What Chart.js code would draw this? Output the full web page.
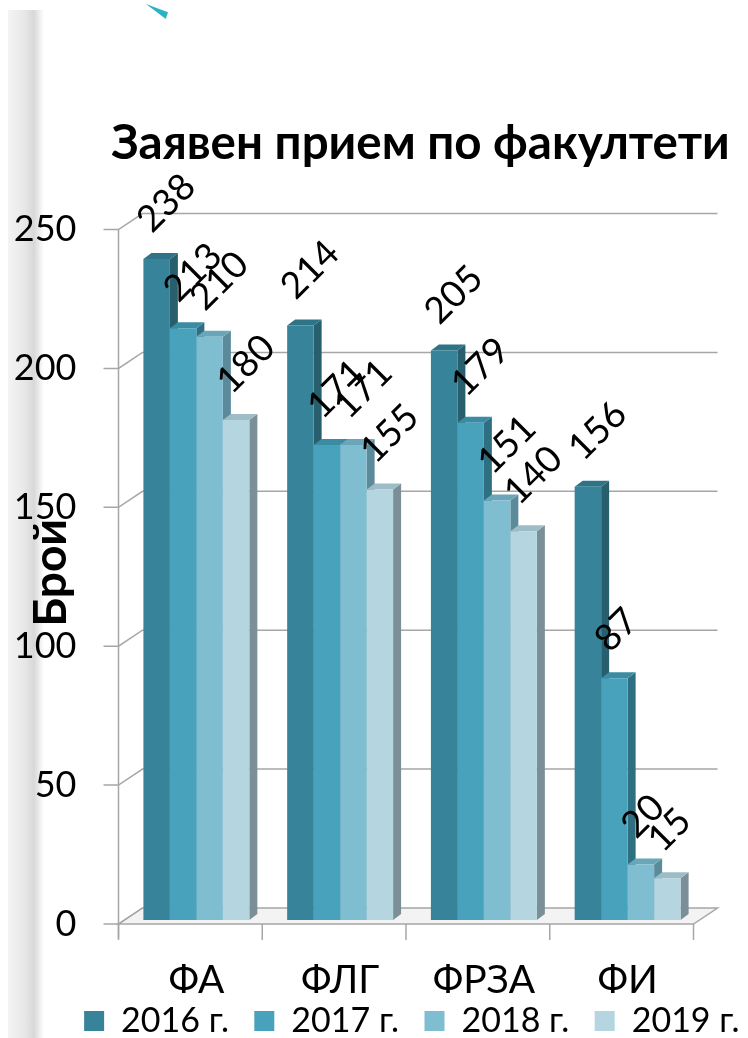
<!DOCTYPE html>
<html>
<head>
<meta charset="utf-8">
<title>Заявен прием по факултети</title>
<script src="https://cdn.jsdelivr.net/npm/chart.js"></script>
<style>
    body { margin: 0; width: 748px; height: 1038px; overflow: hidden; background: #fff; position: relative; }
    #shade { position: absolute; left: 8px; top: 10px; width: 36px; height: 1028px;
             background: linear-gradient(to right, #f4f4f4 0%, #e8e8e8 45%, #d8d8d8 72%, #ffffff 100%); }
    #mark { position: absolute; left: 146px; top: 4px; width: 22px; height: 15px; background: #2ab3c4;
            clip-path: polygon(0 0, 100% 55%, 90% 100%); }
    #wrap { position: absolute; left: 0; top: 0; width: 841px; height: 1100px; }
</style>
</head>
<body>
<div id="shade"></div>
<div id="mark"></div>
<div id="wrap"><canvas id="myChart"></canvas></div>

<script>
    // data
    var faculties = ['ФА', 'ФЛГ', 'ФРЗА', 'ФИ'];
    var years = ['2016 г.', '2017 г.', '2018 г.', '2019 г.'];
    var y2016 = [238, 214, 205, 156];
    var y2017 = [213, 171, 179, 87];
    var y2018 = [210, 171, 151, 20];
    var y2019 = [180, 155, 140, 15];
    var yTicks = [0, 50, 100, 150, 200, 250];

    var frontColors = ['#37849a', '#48a2bb', '#7fbdd1', '#b5d6e1'];
    var sideColors = ['#285f6f', '#2f6f82', '#5b8b9b', '#7a8f97'];
    var topColors = ['#2e7386', '#3a8ca3', '#69a6b9', '#9cbcc6'];

    // fake 3d offsets
    var FX = -6, FY = 4;      // front edge vs bar plane
    var BX = 18, BY = -12;    // back wall vs bar plane
    var BAR_DX = 8, BAR_DY = -6;
    var LBL_DX = -13, LBL_DY = -33;

    var frame3d = {
        id: 'frame3d',
        beforeDatasetsDraw: function(chart) {
            var ctx = chart.ctx, a = chart.chartArea, ys = chart.scales.y, xs = chart.scales.x;
            var fl = a.left + FX, fr = a.right + FX, bl = a.left + BX, br = a.right + BX;
            var y0 = ys.getPixelForValue(0);
            ctx.save();
            ctx.strokeStyle = '#a6a6a6';
            ctx.lineWidth = 1.5;

            // floor
            ctx.beginPath();
            ctx.moveTo(fl, y0 + FY); ctx.lineTo(fr, y0 + FY);
            ctx.lineTo(br, y0 + BY); ctx.lineTo(bl, y0 + BY);
            ctx.closePath();
            ctx.fillStyle = '#f3f3f3';
            ctx.fill();
            ctx.stroke();

            // ticks, side wall diagonals, back wall grid
            yTicks.forEach(function(v) {
                var yp = ys.getPixelForValue(v);
                ctx.beginPath();
                ctx.moveTo(fl - 15, yp + FY);
                ctx.lineTo(fl, yp + FY);
                ctx.lineTo(bl, yp + BY);
                if (v > 0) ctx.lineTo(br, yp + BY);
                ctx.stroke();
            });

            // front vertical axis
            ctx.beginPath();
            ctx.moveTo(fl, ys.getPixelForValue(yTicks[yTicks.length - 1]) + FY);
            ctx.lineTo(fl, y0 + FY + 14);
            ctx.stroke();

            // category ticks
            var step = xs.getPixelForValue(1) - xs.getPixelForValue(0);
            for (var i = 0; i <= faculties.length; i++) {
                var xp = xs.getPixelForValue(0) - step / 2 + step * i + FX;
                ctx.beginPath();
                ctx.moveTo(xp, y0 + FY);
                ctx.lineTo(xp, y0 + FY + 16);
                ctx.stroke();
            }

            // bar sides and tops (front faces are drawn by chart.js on top)
            chart.data.datasets.forEach(function(ds, d) {
                chart.getDatasetMeta(d).data.forEach(function(el) {
                    var p = el.getProps(['x', 'y', 'base', 'width'], true);
                    var l = p.x - p.width / 2, r = p.x + p.width / 2;
                    ctx.fillStyle = sideColors[d];
                    ctx.beginPath();
                    ctx.moveTo(r, p.y); ctx.lineTo(r + BAR_DX, p.y + BAR_DY);
                    ctx.lineTo(r + BAR_DX, p.base + BAR_DY); ctx.lineTo(r, p.base);
                    ctx.closePath(); ctx.fill();
                    ctx.fillStyle = topColors[d];
                    ctx.beginPath();
                    ctx.moveTo(l, p.y); ctx.lineTo(l + BAR_DX, p.y + BAR_DY);
                    ctx.lineTo(r + BAR_DX, p.y + BAR_DY); ctx.lineTo(r, p.y);
                    ctx.closePath(); ctx.fill();
                });
            });
            ctx.restore();
        },
        afterDatasetsDraw: function(chart) {
            var ctx = chart.ctx;
            ctx.save();
            ctx.font = '37px Lato';
            ctx.fillStyle = '#000';
            ctx.textAlign = 'left';
            ctx.textBaseline = 'middle';
            chart.data.datasets.forEach(function(ds, d) {
                chart.getDatasetMeta(d).data.forEach(function(el, i) {
                    ctx.save();
                    ctx.translate(el.x + LBL_DX, el.y + LBL_DY);
                    ctx.rotate(-Math.PI / 4);
                    ctx.fillText(String(ds.data[i]), 0, 0);
                    ctx.restore();
                });
            });
            ctx.restore();
        }
    };

    var series = [y2016, y2017, y2018, y2019];
    var ctx = document.getElementById('myChart').getContext('2d');
    var myChart = new Chart(ctx, {
        type: 'bar',
        data: {
            labels: faculties,
            datasets: series.map(function(vals, d) {
                return {
                    label: years[d],
                    data: vals,
                    backgroundColor: frontColors[d],
                    borderColor: frontColors[d],
                    borderWidth: 0,
                    categoryPercentage: 0.737,
                    barPercentage: 1.0
                };
            })
        },
        plugins: [frame3d],
        options: {
            responsive: true,
            maintainAspectRatio: false,
            animation: false,
            layout: { padding: { top: 0, left: 0, right: 0, bottom: 52 } },
            plugins: {
                title: {
                    display: true,
                    text: 'Заявен прием по факултети',
                    color: '#000',
                    font: { family: 'Lato', size: 47.5, weight: 'bold' },
                    padding: { top: 115.5, bottom: 53.1 }
                },
                legend: {
                    position: 'bottom',
                    labels: {
                        color: '#000',
                        font: { family: 'Lato', size: 34 },
                        boxWidth: 20,
                        boxHeight: 20,
                        padding: 8,
                        // wider gaps between items without extra vertical padding
                        generateLabels: function(chart) {
                            var items = Chart.defaults.plugins.legend.labels.generateLabels(chart);
                            items.forEach(function(it) { it.text = it.text + '\u00a0\u00a0'; });
                            return items;
                        }
                    }
                },
                tooltip: { enabled: false }
            },
            scales: {
                x: {
                    grid: { display: false, drawTicks: false },
                    border: { display: false },
                    ticks: { color: '#000', font: { family: 'Lato', size: 39 }, padding: 37 },
                    afterFit: function(s) { s.height = 76; }
                },
                y: {
                    min: 0,
                    max: 250,
                    grid: { display: false, drawTicks: false },
                    border: { display: false },
                    ticks: { stepSize: 50, color: '#000', font: { family: 'Lato', size: 36 }, padding: 48, labelOffset: 4 },
                    title: {
                        display: true,
                        text: 'Брой',
                        color: '#000',
                        font: { family: 'Lato', size: 46, weight: 'bold' },
                        padding: { top: 24, bottom: 0 }
                    },
                    afterFit: function(s) { s.width = 124.5; }
                },
                y2: {
                    position: 'right',
                    display: true,
                    grid: { display: false },
                    border: { display: false },
                    ticks: { display: false },
                    afterFit: function(s) { s.width = 141.5; }
                }
            }
        }
    });
</script>
</body>
</html>
